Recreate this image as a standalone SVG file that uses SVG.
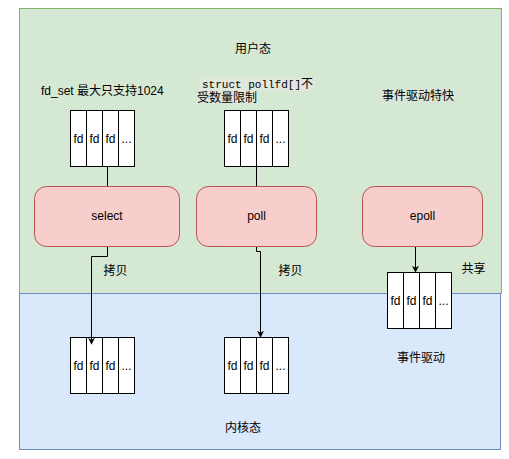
<svg xmlns="http://www.w3.org/2000/svg" width="509" height="459" viewBox="0 0 509 459">
<style>
text{font-family:"Liberation Sans","Noto Sans CJK SC",sans-serif;font-size:12px;fill:#000;}
.c{text-anchor:middle;}
.mono{font-family:"Liberation Mono","Noto Sans CJK SC",monospace;font-size:11px;}
.cell{fill:#fff;stroke:#000;stroke-width:1;}
.node{fill:#f8cecc;stroke:#b85450;stroke-width:1;}
.ln{fill:none;stroke:#000;stroke-width:1;}
</style>
<defs>
<marker id="arr" viewBox="0 0 10 10" refX="9" refY="5" markerWidth="7" markerHeight="7" markerUnits="userSpaceOnUse" orient="auto">
<path d="M0,0 L10,5 L0,10 L3,5 Z" fill="#000"/>
</marker>
<g id="arrcells">
<rect class="cell" x="0" y="0" width="16" height="56"/>
<rect class="cell" x="16" y="0" width="16" height="56"/>
<rect class="cell" x="32" y="0" width="16" height="56"/>
<rect class="cell" x="48" y="0" width="16" height="56"/>
<text class="c" x="8" y="32">fd</text>
<text class="c" x="24" y="32">fd</text>
<text class="c" x="40" y="32">fd</text>
<text class="c" x="56" y="32">...</text>
</g>
</defs>
<g id="userspace">
<rect x="19.5" y="8.5" width="482" height="285" fill="#d5e8d4" stroke="#82b366"/>
<text class="c" x="253" y="53">用户态</text>
</g>
<g id="kernelspace">
<rect x="19.5" y="293.5" width="481" height="156" fill="#dae8fc" stroke="#6c8ebf"/>
<text class="c" x="243" y="432">内核态</text>
</g>
<g id="label-fdset">
<text x="41" y="95">fd_set 最大只支持1024</text>
</g>
<g id="label-pollfd">
<rect x="199" y="77.5" width="116" height="13.5" fill="#e0e7dd"/>
<rect x="197" y="91" width="61" height="12.5" fill="#e0e7dd"/>
<text class="mono" x="202" y="88">struct pollfd[]<tspan style="font-family:'Liberation Sans','Noto Sans CJK SC',sans-serif;font-size:12px">不</tspan></text>
<text x="197" y="102">受数量限制</text>
</g>
<g id="label-epoll">
<rect x="378" y="88" width="78" height="15" fill="#d9e6d6"/>
<text class="c" x="418" y="100">事件驱动特快</text>
</g>
<g id="select-userarr"><use href="#arrcells" x="70.5" y="110.5"/></g>
<g id="poll-userarr"><use href="#arrcells" x="224.5" y="110.5"/></g>
<g id="select-kernarr"><use href="#arrcells" x="70.5" y="337.5"/></g>
<g id="poll-kernarr"><use href="#arrcells" x="224.5" y="337.5"/></g>
<g id="epoll-arr"><use href="#arrcells" x="387.5" y="272.5"/></g>
<g id="connectors">
<path class="ln" d="M107.5 166.5 V186.5"/>
<path class="ln" d="M256.5 166.5 V186.5"/>
<path class="ln" d="M107.5 246.5 V256.5 H91.5 V344" marker-end="url(#arr)"/>
<path class="ln" d="M256.5 246.5 V251.5 H260.5 V337" marker-end="url(#arr)"/>
<path class="ln" d="M415.5 246.5 V272" marker-end="url(#arr)"/>
</g>
<g id="select">
<rect class="node" x="34.5" y="186.5" width="145" height="60" rx="12"/>
<text class="c" x="107" y="220">select</text>
</g>
<g id="poll">
<rect class="node" x="196.5" y="186.5" width="120" height="60" rx="12"/>
<text class="c" x="256.5" y="220">poll</text>
</g>
<g id="epoll">
<rect class="node" x="362.5" y="186.5" width="120" height="60" rx="12"/>
<text class="c" x="422.5" y="220">epoll</text>
</g>
<g id="labels">
<text class="c" x="115.5" y="275">拷贝</text>
<text class="c" x="290.5" y="275">拷贝</text>
<text class="c" x="473.5" y="273">共享</text>
<text class="c" x="421" y="362">事件驱动</text>
</g>
</svg>
